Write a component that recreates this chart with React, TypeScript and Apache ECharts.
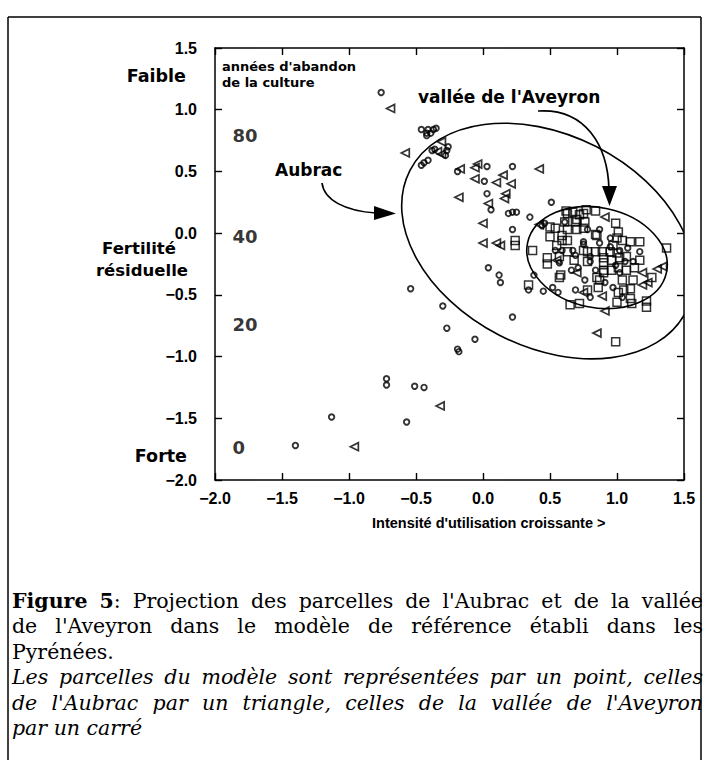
import React, { useEffect, useRef } from "react";
import * as echarts from "echarts";

// ---------- axes ----------
const xMin = -2.0;
const xMax = 1.5;
const yMin = -2.0;
const yMax = 1.5;
const tickStep = 0.5;

// ---------- data (x = intensité d'utilisation, y = fertilité résiduelle) ----------
const modelPoints: number[][] = [
  [-0.76, 1.14], [-0.46, 0.84], [-0.41, 0.84], [-0.37, 0.84], [-0.35, 0.85], [-0.42, 0.81],
  [-0.39, 0.81], [-0.42, 0.79], [-0.38, 0.67], [-0.36, 0.68], [-0.26, 0.70], [-0.27, 0.67],
  [-0.28, 0.63], [-0.46, 0.55], [-0.44, 0.57], [-0.41, 0.59], [-0.19, 0.50], [0.03, 0.54],
  [0.22, 0.54], [0.01, 0.42], [0.03, 0.32], [0.06, 0.19], [0.19, 0.16], [0.22, 0.17],
  [0.25, 0.17], [0.22, 0.03], [0.51, 0.25], [0.35, 0.13], [0.04, -0.28], [0.12, -0.34],
  [0.13, -0.40], [-0.54, -0.45], [-0.30, -0.59], [-0.27, -0.77], [0.22, -0.68], [-0.06, -0.86],
  [-0.19, -0.94], [-0.18, -0.96], [-0.72, -1.18], [-0.72, -1.23], [-0.51, -1.24], [-0.44, -1.25],
  [-1.13, -1.49], [-0.57, -1.53], [-1.40, -1.72], [0.38, -0.34], [0.34, -0.46], [0.45, -0.47],
  [0.52, -0.44], [0.56, -0.48], [0.46, 0.08], [0.44, 0.06], [0.75, -0.07], [0.67, -0.14],
  [0.78, 0.03], [0.80, -0.19], [0.71, -0.28], [0.66, -0.30], [0.84, -0.30], [0.97, -0.44],
  [0.61, 0.09], [0.87, -0.08], [0.95, -0.11], [1.02, -0.14], [1.06, -0.23], [0.91, -0.40],
  [0.80, -0.52], [0.57, -0.24], [0.54, -0.14], [0.99, -0.26], [1.12, -0.23], [0.69, -0.46],
  [1.02, -0.32], [0.75, -0.09], [0.80, -0.23], [1.08, -0.12], [1.17, -0.15], [0.59, -0.14],
  [0.69, -0.18], [0.87, 0.03], [0.95, -0.04], [1.04, -0.52], [0.76, -0.38]
];

const aubracPoints: number[][] = [
  [-0.69, 1.01], [-0.58, 0.65], [-0.31, 0.74], [-0.34, 0.66], [-0.31, 0.64], [-0.17, 0.52],
  [-0.06, 0.53], [-0.04, 0.56], [0.42, 0.52], [-0.06, 0.44], [0.10, 0.41], [0.15, 0.47],
  [0.21, 0.40], [-0.18, 0.29], [0.17, 0.32], [0.16, 0.28], [0.04, 0.24], [0.00, 0.08],
  [0.00, -0.08], [0.10, -0.08], [0.13, -0.10], [-0.96, -1.73], [-0.32, -1.40], [0.85, -0.81],
  [0.55, -0.22], [0.75, -0.48], [0.89, -0.51], [0.91, -0.63], [1.19, -0.42], [1.23, -0.40],
  [1.19, -0.32], [1.30, -0.29], [1.34, -0.27], [0.70, -0.32], [0.42, 0.07], [0.91, 0.13]
];

const aveyronPoints: number[][] = [
  [0.24, -0.06], [0.24, -0.10], [0.37, -0.14], [0.48, -0.20], [0.48, -0.25], [0.58, -0.34],
  [0.34, -0.42], [0.50, 0.05], [0.54, 0.04], [0.50, -0.03], [0.59, -0.06], [0.63, -0.06],
  [0.59, -0.02], [0.63, 0.16], [0.61, 0.09], [0.70, 0.11], [0.70, 0.03], [0.85, -0.02],
  [0.63, -0.15], [0.75, -0.14], [0.57, -0.36], [0.85, -0.36], [0.90, -0.32], [0.86, -0.44],
  [0.78, -0.46], [0.65, -0.58], [0.72, -0.57], [1.00, -0.56], [1.01, -0.48], [1.05, -0.46],
  [1.10, -0.45], [1.10, -0.53], [1.11, -0.57], [1.22, -0.55], [1.22, -0.60], [1.26, -0.36],
  [0.99, -0.88], [1.37, -0.12], [0.62, 0.18], [0.67, 0.17], [0.72, 0.15], [0.75, 0.16],
  [0.84, 0.18], [0.99, 0.08], [0.69, 0.09], [0.76, 0.09], [0.63, 0.03], [0.75, 0.04],
  [0.84, -0.01], [1.01, 0.01], [1.00, -0.04], [0.97, -0.10], [1.04, -0.06], [1.10, -0.07],
  [1.17, -0.07], [0.55, -0.10], [0.78, -0.15], [0.84, -0.15], [0.89, -0.15], [0.95, -0.15],
  [1.00, -0.16], [0.90, -0.20], [0.90, -0.24], [0.96, -0.22], [1.02, -0.20], [1.07, -0.19],
  [1.17, -0.22], [0.90, -0.30], [0.96, -0.30], [1.01, -0.28], [1.07, -0.30], [1.13, -0.28],
  [0.87, -0.38], [1.04, -0.38], [1.12, -0.38], [0.57, -0.19], [0.77, 0.19], [0.68, -0.22],
  [0.78, -0.23]
];

// années d'abandon de la culture (second scale written inside the plot)
const abandonYearLabels = ["80", "40", "20", "0"];
const abandonYearX = -1.87;
const abandonYearY = [0.79, -0.03, -0.74, -1.74];

// ellipses: centre (x, y), half-axes (in x units, in y units), tilt in degrees (clockwise)
const ellipseNames = ["Aubrac", "vallée de l'Aveyron"];
const ellipseCenterX = [0.485, 0.851];
const ellipseCenterY = [-0.064, -0.198];
const ellipseHalfX = [1.157, 0.53];
const ellipseHalfY = [0.859, 0.405];
const ellipseTilt = [27, 12];

// caption
const captionLines = [
  "**Figure 5**: Projection des parcelles de l'Aubrac et de la vallée",
  "de l'Aveyron dans le modèle de référence établi dans les",
  "Pyrénées.",
  "Les parcelles du modèle sont représentées par un point, celles",
  "de l'Aubrac par un triangle, celles de la vallée de l'Aveyron",
  "par un carré",
];
const captionItalic = [false, false, false, true, true, true];
const captionJustify = [true, true, false, true, true, false];

const fmt = (v: number) => (v < 0 ? "\u2212" : "") + Math.abs(v).toFixed(1);

type Seg = { text: string; bold: boolean };
function parseTokens(line: string): Seg[][] {
  const tokens: Seg[][] = [];
  let bold = false;
  for (const word of line.split(" ")) {
    const parts = word.split("**");
    const segs: Seg[] = [];
    parts.forEach((p, i) => {
      if (i > 0) bold = !bold;
      if (p) segs.push({ text: p, bold });
    });
    tokens.push(segs);
  }
  return tokens;
}

function buildCaption(): any[] {
  const left = 12;
  const right = 703;
  const top = 601;
  const lh = 25.4;
  const family = '"DejaVu Serif"';
  const canvas = document.createElement("canvas");
  const ctx = canvas.getContext("2d") as CanvasRenderingContext2D;
  const els: any[] = [];
  captionLines.forEach((line, li) => {
    const italic = captionItalic[li];
    const size = 20.5;
    const fontOf = (s: Seg) =>
      `${italic ? "italic " : ""}${s.bold ? "bold " : ""}${size}px ${family}`;
    const tokens = parseTokens(line);
    const widths = tokens.map((tk) =>
      tk.map((s) => {
        ctx.font = fontOf(s);
        return ctx.measureText(s.text).width;
      })
    );
    const tokW = widths.map((w) => w.reduce((a, b) => a + b, 0));
    const total = tokW.reduce((a, b) => a + b, 0);
    ctx.font = fontOf({ text: " ", bold: false });
    const space = ctx.measureText(" ").width;
    const gap =
      captionJustify[li] && tokens.length > 1
        ? Math.max(space * 0.6, (right - left - total) / (tokens.length - 1))
        : space;
    let x = left;
    const y = top + li * lh;
    tokens.forEach((tk, ti) => {
      let sx = x;
      tk.forEach((s, si) => {
        els.push({
          type: "text",
          x: sx,
          y,
          silent: true,
          style: {
            text: s.text,
            fontFamily: family,
            fontSize: size,
            fontWeight: s.bold ? "bold" : "normal",
            fontStyle: italic ? "italic" : "normal",
            fill: "#000",
            align: "left",
            verticalAlign: "middle",
          },
        });
        sx += widths[ti][si];
      });
      x += tokW[ti] + gap;
    });
  });
  return els;
}

const sansBold = (size: number, family = '"DejaVu Sans"') => ({
  fontFamily: family,
  fontSize: size,
  fontWeight: "bold",
  fill: "#000",
});

export default function App() {
  const ref = useRef<HTMLDivElement>(null);
  useEffect(() => {
    if (!ref.current) return;
    const chart = echarts.init(ref.current, undefined, { renderer: "svg" });
    const axisCommon = {
      type: "value" as const,
      min: xMin,
      max: xMax,
      interval: tickStep,
      splitLine: { show: false },
      axisLine: { show: true, onZero: false, lineStyle: { color: "#000", width: 1.5 } },
      axisTick: { show: true, inside: true, length: 7, lineStyle: { color: "#000", width: 1.4 } },
    };
    const yCommon = { ...axisCommon, min: yMin, max: yMax };
    const labelFont = {
      color: "#000",
      fontFamily: '"Liberation Sans", Arial',
      fontWeight: "bold" as const,
      fontSize: 16,
    };
    const ellipseData = ellipseNames.map((_, i) => [
      ellipseCenterX[i],
      ellipseCenterY[i],
      ellipseHalfX[i],
      ellipseHalfY[i],
      ellipseTilt[i],
    ]);
    const graphics: any[] = [
      // frame
      { type: "line", shape: { x1: 8, y1: 17, x2: 701, y2: 17 }, style: { stroke: "#000", lineWidth: 1.5 } },
      { type: "line", shape: { x1: 8, y1: 17, x2: 8, y2: 760 }, style: { stroke: "#000", lineWidth: 1.5 } },
      { type: "line", shape: { x1: 701, y1: 17, x2: 701, y2: 760 }, style: { stroke: "#000", lineWidth: 1.5 } },
      // y side labels
      { type: "text", x: 186, y: 76, style: { text: "Faible", ...sansBold(17.5), align: "right", verticalAlign: "middle" } },
      { type: "text", x: 139, y: 248, style: { text: "Fertilité", ...sansBold(16.5), align: "center", verticalAlign: "middle" } },
      { type: "text", x: 142, y: 270, style: { text: "résiduelle", ...sansBold(16.5), align: "center", verticalAlign: "middle" } },
      { type: "text", x: 187, y: 456, style: { text: "Forte", ...sansBold(17.5), align: "right", verticalAlign: "middle" } },
      // inside legend of second scale
      { type: "text", x: 222, y: 66, style: { text: "années d'abandon", ...sansBold(13), align: "left", verticalAlign: "middle" } },
      { type: "text", x: 222, y: 82, style: { text: "de la culture", ...sansBold(13), align: "left", verticalAlign: "middle" } },
      // annotations
      { type: "text", x: 418, y: 97, style: { text: "vallée de l'Aveyron", ...sansBold(17), align: "left", verticalAlign: "middle" } },
      { type: "text", x: 275, y: 170, style: { text: "Aubrac", ...sansBold(17), align: "left", verticalAlign: "middle" } },
      {
        type: "bezierCurve",
        shape: { x1: 538, y1: 111, cpx1: 585, cpy1: 108, cpx2: 608, cpy2: 145, x2: 609, y2: 190 },
        style: { stroke: "#000", lineWidth: 1.7, fill: "none" },
      },
      { type: "polygon", shape: { points: [[602, 186], [617, 186], [609.5, 206]] }, style: { fill: "#000" } },
      {
        type: "bezierCurve",
        shape: { x1: 322, y1: 183, cpx1: 324, cpy1: 200, cpx2: 345, cpy2: 211, x2: 376, y2: 213 },
        style: { stroke: "#000", lineWidth: 1.7, fill: "none" },
      },
      { type: "polygon", shape: { points: [[374, 206], [374, 220], [396, 213.5]] }, style: { fill: "#000" } },
      // x axis title
      {
        type: "text",
        x: 372,
        y: 523,
        style: { text: "Intensité d'utilisation croissante >", ...sansBold(14.5, '"Liberation Sans", Arial'), align: "left", verticalAlign: "middle" },
      },
      ...buildCaption(),
    ];

    chart.setOption({
      animation: false,
      backgroundColor: "#fff",
      grid: { left: 215, right: 26, top: 48, bottom: 280, containLabel: false },
      xAxis: [
        {
          ...axisCommon,
          position: "bottom",
          axisLabel: { ...labelFont, margin: 10, formatter: fmt },
        },
        { ...axisCommon, position: "top", axisLabel: { show: false } },
      ],
      yAxis: [
        {
          ...yCommon,
          position: "left",
          axisLabel: { ...labelFont, margin: 18, padding: [0, 0, 6, 0], formatter: fmt },
        },
        { ...yCommon, position: "right", axisLabel: { show: false } },
      ],
      series: [
        {
          type: "custom",
          name: "ellipses",
          silent: true,
          clip: true,
          data: ellipseData,
          renderItem: (params: any, api: any) => {
            const c = api.coord([api.value(0), api.value(1)]);
            const s = api.size([api.value(2), api.value(3)]);
            return {
              type: "ellipse",
              x: c[0],
              y: c[1],
              rotation: (-api.value(4) * Math.PI) / 180,
              shape: { cx: 0, cy: 0, rx: s[0], ry: s[1] },
              style: { fill: "none", stroke: "#000", lineWidth: 1.6 },
            };
          },
        },
        {
          type: "scatter",
          name: "vallée de l'Aveyron",
          silent: true,
          symbol: "rect",
          symbolSize: 8,
          itemStyle: { color: "rgba(0,0,0,0)", borderColor: "#000", borderWidth: 1.5 },
          data: aveyronPoints,
        },
        {
          type: "scatter",
          name: "Aubrac",
          silent: true,
          symbol: "path://M0,5L9,0L9,10Z",
          symbolSize: [8, 8],
          itemStyle: { color: "rgba(0,0,0,0)", borderColor: "#000", borderWidth: 1.7 },
          data: aubracPoints,
        },
        {
          type: "scatter",
          name: "modèle",
          silent: true,
          symbol: "circle",
          symbolSize: 5.5,
          itemStyle: { color: "rgba(0,0,0,0)", borderColor: "#000", borderWidth: 1.9 },
          data: modelPoints,
        },
        {
          type: "scatter",
          name: "années",
          silent: true,
          symbolSize: 0,
          data: abandonYearY.map((y, i) => [abandonYearX, y, abandonYearLabels[i]]),
          label: {
            show: true,
            position: "right",
            distance: 0,
            formatter: (p: any) => p.data[2],
            color: "#000",
            fontFamily: '"DejaVu Sans"',
            fontWeight: "bold",
            fontSize: 18,
          },
        },
      ],
      graphic: graphics,
    });
    return () => chart.dispose();
  }, []);
  return (
    <div
      ref={ref}
      style={{ position: "absolute", left: 0, top: 0, width: 710, height: 760, background: "#fff" }}
    />
  );
}
